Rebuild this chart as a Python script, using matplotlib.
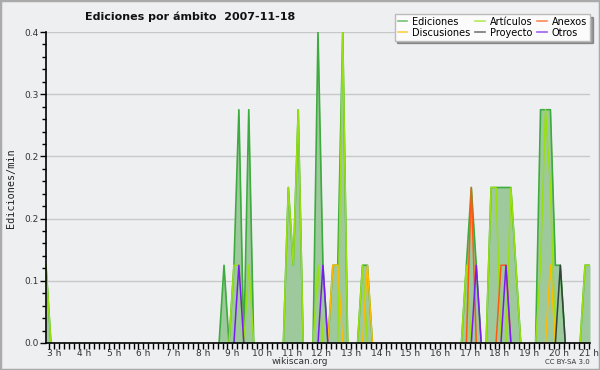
import numpy as np
import matplotlib
matplotlib.use("Agg")
import matplotlib.pyplot as plt
from matplotlib.ticker import MultipleLocator, FixedLocator
from matplotlib.patches import Rectangle

# --- data: 10-minute slots counted from 02:43, values in edits/min ---
t0_hours = 2 + 43 / 60.0
n_slots = 111

ediciones = {0: 0.1, 36: 0.1, 38: 0.1, 39: 0.3, 41: 0.3,
             49: 0.2, 50: 0.1, 51: 0.3,
             55: 0.4, 56: 0.1, 58: 0.1, 59: 0.1, 60: 0.4,
             64: 0.1, 65: 0.1,
             85: 0.1, 86: 0.2, 87: 0.1,
             90: 0.2, 91: 0.2, 92: 0.2, 93: 0.2, 94: 0.2, 95: 0.1,
             100: 0.3, 101: 0.3, 102: 0.3, 103: 0.1, 104: 0.1,
             109: 0.1, 110: 0.1}
articulos = {0: 0.1, 38: 0.1, 39: 0.1, 41: 0.1,
             49: 0.2, 50: 0.1, 51: 0.3,
             55: 0.1, 60: 0.4, 64: 0.1, 85: 0.1,
             90: 0.2, 91: 0.2, 94: 0.2, 95: 0.1,
             100: 0.1, 101: 0.3, 102: 0.2,
             109: 0.1, 110: 0.1}
anexos = {86: 0.2, 92: 0.1, 93: 0.1}
discusiones = {58: 0.1, 59: 0.1, 65: 0.1, 102: 0.1}
proyecto = {104: 0.1}
otros = {39: 0.1, 56: 0.1, 87: 0.1, 93: 0.1}

hour_ticks = list(range(3, 22))
hour_labels = [f"{h} h" for h in hour_ticks]


def to_series(d):
    y = np.zeros(n_slots)
    for k, v in d.items():
        y[k] = v
    return y


def hide_flat_zeros(y):
    """Keep zeros only where they touch a non-zero value."""
    left = np.r_[0, y[:-1]]
    right = np.r_[y[1:], 0]
    return np.where((y == 0) & (left == 0) & (right == 0), np.nan, y)


x = t0_hours + np.arange(n_slots) / 6.0
bg = "#eeeff1"

fig = plt.figure(figsize=(6, 3.7), dpi=100, facecolor=bg)
ax = fig.add_axes([46 / 600, 27 / 370, 544 / 600, 311 / 370], facecolor=bg)

y_tot = to_series(ediciones)
ax.fill_between(x, 0, y_tot, color="#9dc99d", lw=0, zorder=1)
ax.plot(x, hide_flat_zeros(y_tot), color="#3dab3d", lw=1.2, zorder=2,
        label="Ediciones")

series = [
    ("Artículos", articulos, "#99e010"),
    ("Anexos", anexos, "#ff5a14"),
    ("Discusiones", discusiones, "#ffbb00"),
    ("Proyecto", proyecto, "#34443a"),
    ("Otros", otros, "#7a1cf0"),
]
lines = {}
for name, d, col in series:
    (ln,) = ax.plot(x, hide_flat_zeros(to_series(d)), color=col, lw=1.1,
                    zorder=2, label=name)
    lines[name] = ln

ax.set_xlim(t0_hours, t0_hours + (n_slots - 1) / 6.0)
ax.set_ylim(0, 0.4)

ax.yaxis.set_major_locator(MultipleLocator(0.08))
ax.yaxis.set_minor_locator(MultipleLocator(0.016))
ax.yaxis.set_major_formatter(lambda v, p: f"{v:.1f}")
ax.xaxis.set_major_locator(FixedLocator(hour_ticks))
ax.set_xticklabels(hour_labels)
ax.xaxis.set_minor_locator(MultipleLocator(1 / 6.0))

ax.grid(axis="y", which="major", color="#c9c9c9", lw=1)
ax.set_axisbelow(True)
for s in ("top", "right"):
    ax.spines[s].set_visible(False)
for s in ("left", "bottom"):
    ax.spines[s].set_color("black")
    ax.spines[s].set_linewidth(1.2)
    ax.spines[s].set_zorder(3)

ax.tick_params(axis="both", which="both", direction="out", color="black",
               labelsize=6.5, labelcolor="#333333", width=1)
ax.tick_params(axis="y", which="major", length=4, pad=1)
ax.tick_params(axis="y", which="minor", length=3)
ax.tick_params(axis="x", which="both", length=4, pad=0)

fig.text(11 / 600, 1 - 188 / 370, "Ediciones/min",
         rotation=90, va="center", ha="center", fontsize=7.3,
         family="DejaVu Sans Mono", color="#222222")
fig.text(85 / 600, 1 - 17 / 370, "Ediciones por ámbito  2007-11-18",
         ha="left", va="center", fontsize=8, fontweight="bold",
         color="#111111")
fig.text(300 / 600, 1 - 362 / 370, "wikiscan.org", ha="center",
         va="center", fontsize=6.5, color="#333333")
fig.text(590 / 600, 1 - 362 / 370, "CC BY-SA 3.0", ha="right",
         va="center", fontsize=5, color="#333333")

handles = [ax.lines[0], lines["Discusiones"], lines["Artículos"],
           lines["Proyecto"], lines["Anexos"], lines["Otros"]]
leg = fig.legend(handles=handles, labels=[h.get_label() for h in handles],
                 ncol=3, loc="upper right", bbox_to_anchor=(595 / 600, 1 - 9 / 370),
                 fontsize=7, frameon=True, fancybox=False, shadow=True,
                 handlelength=1.0, handletextpad=0.5, columnspacing=0.5,
                 labelspacing=0.1, borderpad=0.3)
leg.get_frame().set_facecolor("#fbfbfb")
leg.get_frame().set_edgecolor("#bbbbbb")
for h in leg.get_lines():
    h.set_linewidth(1.2)
    h.set_alpha(0.7)

fig.patches.append(Rectangle((0, 0), 1, 1, transform=fig.transFigure,
                             fill=False, edgecolor="#aaaaaa", lw=2.5))

fig.savefig("out.png", dpi=100, facecolor=bg)
